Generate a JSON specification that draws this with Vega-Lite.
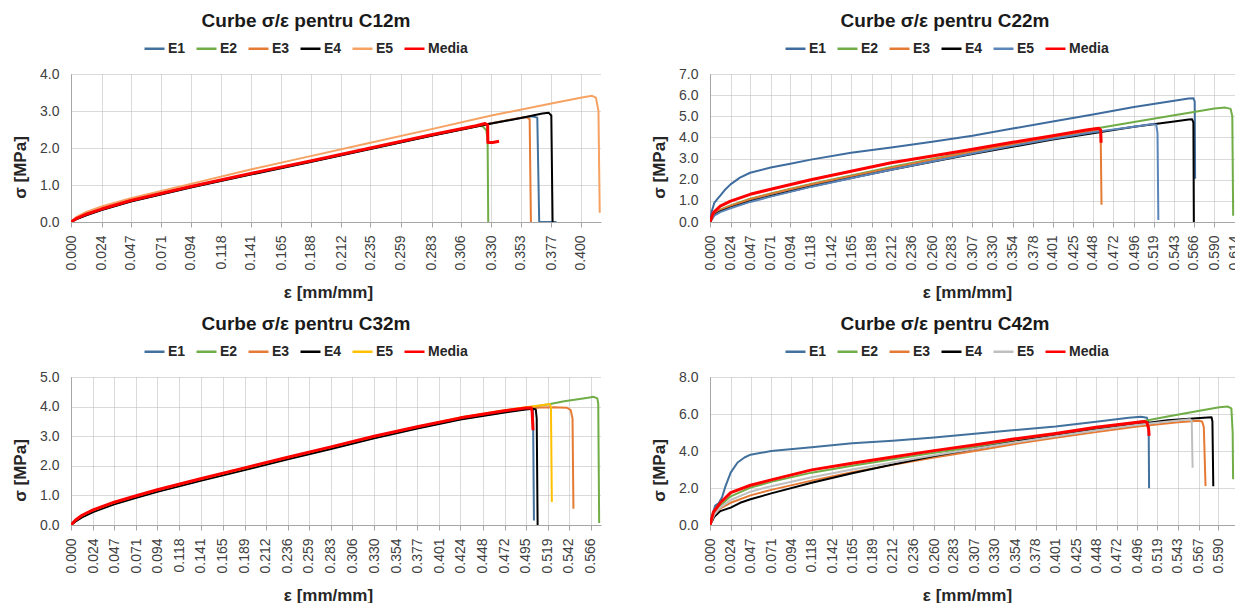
{
"$schema": "https://vega.github.io/schema/vega-lite/v6.json",
"background": "white",
"padding": {"left": 11, "top": 12, "right": 0, "bottom": 0},
"config": {
  "view": {"stroke": null},
  "font": "Liberation Sans",
  "axis": {"labelFont": "Liberation Sans", "labelFontSize": 14, "labelColor": "#404040", "titleFont": "Liberation Sans", "titleFontSize": 17, "titleFontWeight": "bold", "titleColor": "#262626", "gridColor": "#b4b4b4", "gridDash": [1, 1], "gridWidth": 1, "domainColor": "#a6a6a6", "tickColor": "#a6a6a6"},
  "axisX": {"labelAngle": -90, "tickSize": 5, "labelPadding": 8, "titlePadding": 14, "titleX": 257},
  "axisY": {"tickSize": 0, "labelPadding": 12, "titlePadding": 10, "titleY": 93},
  "legend": {"symbolType": "stroke", "symbolSize": 400, "symbolStrokeWidth": 2.5, "labelFont": "Liberation Sans", "labelFontSize": 14, "labelFontWeight": "bold", "labelColor": "#262626", "columnPadding": 5, "labelOffset": 2, "padding": 0},
  "title": {"font": "Liberation Sans", "fontSize": 19, "fontWeight": "bold", "color": "#1a1a1a", "frame": "group", "baseline": "alphabetic", "offset": 6, "dx": -30}
},
"datasets": {
"c12": [
{"s":"E1","x":0,"y":0},{"s":"E1","x":0.004,"y":0.08},{"s":"E1","x":0.012,"y":0.19},{"s":"E1","x":0.024,"y":0.33},{"s":"E1","x":0.047,"y":0.56},{"s":"E1","x":0.094,"y":0.94},{"s":"E1","x":0.141,"y":1.29},{"s":"E1","x":0.188,"y":1.63},{"s":"E1","x":0.235,"y":1.98},{"s":"E1","x":0.283,"y":2.34},{"s":"E1","x":0.330,"y":2.67},{"s":"E1","x":0.353,"y":2.81},{"s":"E1","x":0.362,"y":2.86},{"s":"E1","x":0.366,"y":2.82},{"s":"E1","x":0.3675,"y":0},{"s":"E1","x":0.381,"y":0},
{"s":"E2","x":0,"y":0},{"s":"E2","x":0.004,"y":0.08},{"s":"E2","x":0.012,"y":0.2},{"s":"E2","x":0.024,"y":0.34},{"s":"E2","x":0.047,"y":0.57},{"s":"E2","x":0.094,"y":0.95},{"s":"E2","x":0.141,"y":1.3},{"s":"E2","x":0.188,"y":1.64},{"s":"E2","x":0.235,"y":1.99},{"s":"E2","x":0.283,"y":2.35},{"s":"E2","x":0.318,"y":2.6},{"s":"E2","x":0.323,"y":2.59},{"s":"E2","x":0.326,"y":2.48},{"s":"E2","x":0.327,"y":2.2},{"s":"E2","x":0.3275,"y":0},
{"s":"E3","x":0,"y":0},{"s":"E3","x":0.004,"y":0.1},{"s":"E3","x":0.012,"y":0.22},{"s":"E3","x":0.024,"y":0.36},{"s":"E3","x":0.047,"y":0.59},{"s":"E3","x":0.094,"y":0.96},{"s":"E3","x":0.141,"y":1.3},{"s":"E3","x":0.188,"y":1.64},{"s":"E3","x":0.235,"y":1.99},{"s":"E3","x":0.283,"y":2.34},{"s":"E3","x":0.330,"y":2.67},{"s":"E3","x":0.350,"y":2.8},{"s":"E3","x":0.357,"y":2.84},{"s":"E3","x":0.360,"y":2.78},{"s":"E3","x":0.361,"y":0},
{"s":"E4","x":0,"y":0},{"s":"E4","x":0.004,"y":0.07},{"s":"E4","x":0.012,"y":0.18},{"s":"E4","x":0.024,"y":0.32},{"s":"E4","x":0.047,"y":0.55},{"s":"E4","x":0.094,"y":0.93},{"s":"E4","x":0.141,"y":1.28},{"s":"E4","x":0.188,"y":1.62},{"s":"E4","x":0.235,"y":1.97},{"s":"E4","x":0.283,"y":2.33},{"s":"E4","x":0.330,"y":2.66},{"s":"E4","x":0.353,"y":2.81},{"s":"E4","x":0.370,"y":2.93},{"s":"E4","x":0.375,"y":2.95},{"s":"E4","x":0.377,"y":2.88},{"s":"E4","x":0.378,"y":0},
{"s":"E5","x":0,"y":0},{"s":"E5","x":0.004,"y":0.13},{"s":"E5","x":0.012,"y":0.27},{"s":"E5","x":0.024,"y":0.42},{"s":"E5","x":0.047,"y":0.64},{"s":"E5","x":0.094,"y":1.03},{"s":"E5","x":0.141,"y":1.42},{"s":"E5","x":0.188,"y":1.78},{"s":"E5","x":0.235,"y":2.14},{"s":"E5","x":0.283,"y":2.51},{"s":"E5","x":0.330,"y":2.88},{"s":"E5","x":0.377,"y":3.2},{"s":"E5","x":0.400,"y":3.36},{"s":"E5","x":0.409,"y":3.41},{"s":"E5","x":0.412,"y":3.36},{"s":"E5","x":0.414,"y":3.0},{"s":"E5","x":0.415,"y":0.25},
{"s":"Media","x":0,"y":0},{"s":"Media","x":0.004,"y":0.09},{"s":"Media","x":0.012,"y":0.21},{"s":"Media","x":0.024,"y":0.35},{"s":"Media","x":0.047,"y":0.58},{"s":"Media","x":0.094,"y":0.96},{"s":"Media","x":0.141,"y":1.31},{"s":"Media","x":0.188,"y":1.65},{"s":"Media","x":0.235,"y":2.0},{"s":"Media","x":0.283,"y":2.36},{"s":"Media","x":0.318,"y":2.6},{"s":"Media","x":0.325,"y":2.66},{"s":"Media","x":0.327,"y":2.62},{"s":"Media","x":0.3272,"y":2.15},{"s":"Media","x":0.331,"y":2.15},{"s":"Media","x":0.336,"y":2.18}
],
"c22": [
{"s":"E1","x":0,"y":0},{"s":"E1","x":0.002,"y":0.5},{"s":"E1","x":0.005,"y":0.9},{"s":"E1","x":0.009,"y":1.1},{"s":"E1","x":0.012,"y":1.25},{"s":"E1","x":0.017,"y":1.5},{"s":"E1","x":0.024,"y":1.78},{"s":"E1","x":0.035,"y":2.1},{"s":"E1","x":0.047,"y":2.33},{"s":"E1","x":0.071,"y":2.58},{"s":"E1","x":0.094,"y":2.76},{"s":"E1","x":0.118,"y":2.95},{"s":"E1","x":0.165,"y":3.28},{"s":"E1","x":0.212,"y":3.52},{"s":"E1","x":0.260,"y":3.8},{"s":"E1","x":0.307,"y":4.08},{"s":"E1","x":0.354,"y":4.42},{"s":"E1","x":0.401,"y":4.75},{"s":"E1","x":0.448,"y":5.08},{"s":"E1","x":0.496,"y":5.44},{"s":"E1","x":0.543,"y":5.74},{"s":"E1","x":0.560,"y":5.84},{"s":"E1","x":0.5655,"y":5.85},{"s":"E1","x":0.567,"y":5.7},{"s":"E1","x":0.5675,"y":2.05},
{"s":"E2","x":0,"y":0},{"s":"E2","x":0.005,"y":0.4},{"s":"E2","x":0.012,"y":0.58},{"s":"E2","x":0.024,"y":0.78},{"s":"E2","x":0.047,"y":1.1},{"s":"E2","x":0.071,"y":1.35},{"s":"E2","x":0.118,"y":1.8},{"s":"E2","x":0.165,"y":2.2},{"s":"E2","x":0.212,"y":2.6},{"s":"E2","x":0.260,"y":2.98},{"s":"E2","x":0.307,"y":3.36},{"s":"E2","x":0.354,"y":3.7},{"s":"E2","x":0.401,"y":4.05},{"s":"E2","x":0.448,"y":4.4},{"s":"E2","x":0.496,"y":4.73},{"s":"E2","x":0.543,"y":5.05},{"s":"E2","x":0.566,"y":5.2},{"s":"E2","x":0.590,"y":5.37},{"s":"E2","x":0.603,"y":5.41},{"s":"E2","x":0.609,"y":5.35},{"s":"E2","x":0.611,"y":5.0},{"s":"E2","x":0.612,"y":0.3},
{"s":"E3","x":0,"y":0},{"s":"E3","x":0.005,"y":0.38},{"s":"E3","x":0.012,"y":0.56},{"s":"E3","x":0.024,"y":0.76},{"s":"E3","x":0.047,"y":1.08},{"s":"E3","x":0.071,"y":1.33},{"s":"E3","x":0.118,"y":1.77},{"s":"E3","x":0.165,"y":2.17},{"s":"E3","x":0.212,"y":2.56},{"s":"E3","x":0.260,"y":2.94},{"s":"E3","x":0.307,"y":3.32},{"s":"E3","x":0.354,"y":3.66},{"s":"E3","x":0.401,"y":3.98},{"s":"E3","x":0.448,"y":4.3},{"s":"E3","x":0.454,"y":4.34},{"s":"E3","x":0.457,"y":4.25},{"s":"E3","x":0.458,"y":0.82},
{"s":"E4","x":0,"y":0},{"s":"E4","x":0.005,"y":0.33},{"s":"E4","x":0.012,"y":0.5},{"s":"E4","x":0.024,"y":0.68},{"s":"E4","x":0.047,"y":0.98},{"s":"E4","x":0.071,"y":1.23},{"s":"E4","x":0.118,"y":1.68},{"s":"E4","x":0.165,"y":2.08},{"s":"E4","x":0.212,"y":2.47},{"s":"E4","x":0.260,"y":2.85},{"s":"E4","x":0.307,"y":3.22},{"s":"E4","x":0.354,"y":3.56},{"s":"E4","x":0.401,"y":3.9},{"s":"E4","x":0.448,"y":4.2},{"s":"E4","x":0.496,"y":4.5},{"s":"E4","x":0.543,"y":4.75},{"s":"E4","x":0.560,"y":4.85},{"s":"E4","x":0.564,"y":4.86},{"s":"E4","x":0.5655,"y":4.7},{"s":"E4","x":0.566,"y":0},
{"s":"E5","x":0,"y":0},{"s":"E5","x":0.005,"y":0.3},{"s":"E5","x":0.012,"y":0.47},{"s":"E5","x":0.024,"y":0.65},{"s":"E5","x":0.047,"y":0.95},{"s":"E5","x":0.071,"y":1.2},{"s":"E5","x":0.118,"y":1.66},{"s":"E5","x":0.165,"y":2.07},{"s":"E5","x":0.212,"y":2.47},{"s":"E5","x":0.260,"y":2.86},{"s":"E5","x":0.307,"y":3.24},{"s":"E5","x":0.354,"y":3.6},{"s":"E5","x":0.401,"y":3.94},{"s":"E5","x":0.448,"y":4.25},{"s":"E5","x":0.496,"y":4.5},{"s":"E5","x":0.518,"y":4.63},{"s":"E5","x":0.522,"y":4.6},{"s":"E5","x":0.5235,"y":4.2},{"s":"E5","x":0.5245,"y":0.1},
{"s":"Media","x":0,"y":0},{"s":"Media","x":0.004,"y":0.45},{"s":"Media","x":0.012,"y":0.75},{"s":"Media","x":0.024,"y":0.99},{"s":"Media","x":0.047,"y":1.31},{"s":"Media","x":0.071,"y":1.55},{"s":"Media","x":0.118,"y":2.0},{"s":"Media","x":0.165,"y":2.4},{"s":"Media","x":0.212,"y":2.8},{"s":"Media","x":0.260,"y":3.12},{"s":"Media","x":0.307,"y":3.44},{"s":"Media","x":0.354,"y":3.77},{"s":"Media","x":0.401,"y":4.08},{"s":"Media","x":0.440,"y":4.35},{"s":"Media","x":0.455,"y":4.43},{"s":"Media","x":0.457,"y":4.35},{"s":"Media","x":0.4575,"y":3.75}
],
"c32": [
{"s":"E1","x":0,"y":0},{"s":"E1","x":0.005,"y":0.13},{"s":"E1","x":0.012,"y":0.28},{"s":"E1","x":0.024,"y":0.46},{"s":"E1","x":0.047,"y":0.72},{"s":"E1","x":0.071,"y":0.94},{"s":"E1","x":0.094,"y":1.14},{"s":"E1","x":0.141,"y":1.51},{"s":"E1","x":0.189,"y":1.88},{"s":"E1","x":0.236,"y":2.24},{"s":"E1","x":0.283,"y":2.59},{"s":"E1","x":0.330,"y":2.95},{"s":"E1","x":0.377,"y":3.28},{"s":"E1","x":0.424,"y":3.58},{"s":"E1","x":0.472,"y":3.82},{"s":"E1","x":0.495,"y":3.92},{"s":"E1","x":0.500,"y":3.95},{"s":"E1","x":0.503,"y":3.9},{"s":"E1","x":0.504,"y":0.15},
{"s":"E2","x":0,"y":0},{"s":"E2","x":0.005,"y":0.15},{"s":"E2","x":0.012,"y":0.3},{"s":"E2","x":0.024,"y":0.48},{"s":"E2","x":0.047,"y":0.74},{"s":"E2","x":0.071,"y":0.96},{"s":"E2","x":0.094,"y":1.16},{"s":"E2","x":0.141,"y":1.53},{"s":"E2","x":0.189,"y":1.9},{"s":"E2","x":0.236,"y":2.26},{"s":"E2","x":0.283,"y":2.61},{"s":"E2","x":0.330,"y":2.97},{"s":"E2","x":0.377,"y":3.3},{"s":"E2","x":0.424,"y":3.6},{"s":"E2","x":0.472,"y":3.85},{"s":"E2","x":0.495,"y":3.96},{"s":"E2","x":0.519,"y":4.07},{"s":"E2","x":0.537,"y":4.18},{"s":"E2","x":0.563,"y":4.3},{"s":"E2","x":0.569,"y":4.33},{"s":"E2","x":0.573,"y":4.28},{"s":"E2","x":0.574,"y":4.1},{"s":"E2","x":0.575,"y":0.07},
{"s":"E3","x":0,"y":0},{"s":"E3","x":0.005,"y":0.14},{"s":"E3","x":0.012,"y":0.29},{"s":"E3","x":0.024,"y":0.47},{"s":"E3","x":0.047,"y":0.73},{"s":"E3","x":0.071,"y":0.95},{"s":"E3","x":0.094,"y":1.15},{"s":"E3","x":0.141,"y":1.52},{"s":"E3","x":0.189,"y":1.89},{"s":"E3","x":0.236,"y":2.25},{"s":"E3","x":0.283,"y":2.6},{"s":"E3","x":0.330,"y":2.96},{"s":"E3","x":0.377,"y":3.29},{"s":"E3","x":0.424,"y":3.59},{"s":"E3","x":0.472,"y":3.83},{"s":"E3","x":0.495,"y":3.93},{"s":"E3","x":0.510,"y":3.97},{"s":"E3","x":0.525,"y":3.98},{"s":"E3","x":0.540,"y":3.96},{"s":"E3","x":0.544,"y":3.88},{"s":"E3","x":0.546,"y":3.6},{"s":"E3","x":0.547,"y":0.55},
{"s":"E4","x":0,"y":0},{"s":"E4","x":0.005,"y":0.12},{"s":"E4","x":0.012,"y":0.26},{"s":"E4","x":0.024,"y":0.44},{"s":"E4","x":0.047,"y":0.7},{"s":"E4","x":0.071,"y":0.92},{"s":"E4","x":0.094,"y":1.12},{"s":"E4","x":0.141,"y":1.49},{"s":"E4","x":0.189,"y":1.86},{"s":"E4","x":0.236,"y":2.22},{"s":"E4","x":0.283,"y":2.57},{"s":"E4","x":0.330,"y":2.93},{"s":"E4","x":0.377,"y":3.26},{"s":"E4","x":0.424,"y":3.56},{"s":"E4","x":0.472,"y":3.8},{"s":"E4","x":0.495,"y":3.9},{"s":"E4","x":0.503,"y":3.93},{"s":"E4","x":0.506,"y":3.9},{"s":"E4","x":0.507,"y":3.6},{"s":"E4","x":0.508,"y":0},
{"s":"E5","x":0,"y":0},{"s":"E5","x":0.005,"y":0.16},{"s":"E5","x":0.012,"y":0.32},{"s":"E5","x":0.024,"y":0.5},{"s":"E5","x":0.047,"y":0.76},{"s":"E5","x":0.071,"y":0.98},{"s":"E5","x":0.094,"y":1.18},{"s":"E5","x":0.141,"y":1.55},{"s":"E5","x":0.189,"y":1.92},{"s":"E5","x":0.236,"y":2.28},{"s":"E5","x":0.283,"y":2.63},{"s":"E5","x":0.330,"y":2.99},{"s":"E5","x":0.377,"y":3.32},{"s":"E5","x":0.424,"y":3.63},{"s":"E5","x":0.472,"y":3.88},{"s":"E5","x":0.495,"y":3.98},{"s":"E5","x":0.510,"y":4.04},{"s":"E5","x":0.521,"y":4.09},{"s":"E5","x":0.5225,"y":4.0},{"s":"E5","x":0.5235,"y":0.78},
{"s":"Media","x":0,"y":0},{"s":"Media","x":0.005,"y":0.17},{"s":"Media","x":0.012,"y":0.33},{"s":"Media","x":0.024,"y":0.51},{"s":"Media","x":0.047,"y":0.77},{"s":"Media","x":0.071,"y":0.99},{"s":"Media","x":0.094,"y":1.19},{"s":"Media","x":0.141,"y":1.56},{"s":"Media","x":0.189,"y":1.93},{"s":"Media","x":0.236,"y":2.29},{"s":"Media","x":0.283,"y":2.64},{"s":"Media","x":0.330,"y":3.0},{"s":"Media","x":0.377,"y":3.32},{"s":"Media","x":0.424,"y":3.62},{"s":"Media","x":0.472,"y":3.86},{"s":"Media","x":0.495,"y":3.95},{"s":"Media","x":0.501,"y":3.96},{"s":"Media","x":0.502,"y":3.85},{"s":"Media","x":0.503,"y":3.2}
],
"c42": [
{"s":"E1","x":0,"y":0},{"s":"E1","x":0.003,"y":0.6},{"s":"E1","x":0.006,"y":1.05},{"s":"E1","x":0.010,"y":1.17},{"s":"E1","x":0.014,"y":1.5},{"s":"E1","x":0.018,"y":2.1},{"s":"E1","x":0.024,"y":2.83},{"s":"E1","x":0.032,"y":3.38},{"s":"E1","x":0.040,"y":3.65},{"s":"E1","x":0.047,"y":3.8},{"s":"E1","x":0.071,"y":4.0},{"s":"E1","x":0.118,"y":4.2},{"s":"E1","x":0.165,"y":4.42},{"s":"E1","x":0.212,"y":4.55},{"s":"E1","x":0.260,"y":4.73},{"s":"E1","x":0.307,"y":4.93},{"s":"E1","x":0.354,"y":5.13},{"s":"E1","x":0.401,"y":5.32},{"s":"E1","x":0.448,"y":5.58},{"s":"E1","x":0.486,"y":5.8},{"s":"E1","x":0.500,"y":5.85},{"s":"E1","x":0.507,"y":5.8},{"s":"E1","x":0.509,"y":5.5},{"s":"E1","x":0.5095,"y":1.99},
{"s":"E2","x":0,"y":0},{"s":"E2","x":0.005,"y":0.6},{"s":"E2","x":0.012,"y":1.05},{"s":"E2","x":0.024,"y":1.55},{"s":"E2","x":0.047,"y":2.02},{"s":"E2","x":0.071,"y":2.33},{"s":"E2","x":0.118,"y":2.83},{"s":"E2","x":0.165,"y":3.2},{"s":"E2","x":0.212,"y":3.55},{"s":"E2","x":0.260,"y":3.9},{"s":"E2","x":0.307,"y":4.22},{"s":"E2","x":0.354,"y":4.55},{"s":"E2","x":0.401,"y":4.87},{"s":"E2","x":0.448,"y":5.2},{"s":"E2","x":0.496,"y":5.55},{"s":"E2","x":0.531,"y":5.87},{"s":"E2","x":0.568,"y":6.18},{"s":"E2","x":0.591,"y":6.37},{"s":"E2","x":0.601,"y":6.4},{"s":"E2","x":0.605,"y":6.3},{"s":"E2","x":0.6065,"y":5.0},{"s":"E2","x":0.607,"y":2.47},
{"s":"E3","x":0,"y":0},{"s":"E3","x":0.005,"y":0.5},{"s":"E3","x":0.012,"y":0.9},{"s":"E3","x":0.024,"y":1.2},{"s":"E3","x":0.047,"y":1.6},{"s":"E3","x":0.071,"y":1.9},{"s":"E3","x":0.118,"y":2.4},{"s":"E3","x":0.165,"y":2.85},{"s":"E3","x":0.212,"y":3.25},{"s":"E3","x":0.260,"y":3.65},{"s":"E3","x":0.307,"y":4.0},{"s":"E3","x":0.354,"y":4.38},{"s":"E3","x":0.401,"y":4.72},{"s":"E3","x":0.448,"y":5.02},{"s":"E3","x":0.496,"y":5.32},{"s":"E3","x":0.543,"y":5.55},{"s":"E3","x":0.567,"y":5.63},{"s":"E3","x":0.571,"y":5.6},{"s":"E3","x":0.573,"y":5.3},{"s":"E3","x":0.575,"y":2.1},
{"s":"E4","x":0,"y":0},{"s":"E4","x":0.005,"y":0.45},{"s":"E4","x":0.012,"y":0.75},{"s":"E4","x":0.024,"y":0.94},{"s":"E4","x":0.035,"y":1.2},{"s":"E4","x":0.047,"y":1.39},{"s":"E4","x":0.071,"y":1.71},{"s":"E4","x":0.118,"y":2.28},{"s":"E4","x":0.165,"y":2.8},{"s":"E4","x":0.212,"y":3.27},{"s":"E4","x":0.260,"y":3.73},{"s":"E4","x":0.307,"y":4.12},{"s":"E4","x":0.354,"y":4.5},{"s":"E4","x":0.401,"y":4.83},{"s":"E4","x":0.448,"y":5.15},{"s":"E4","x":0.496,"y":5.45},{"s":"E4","x":0.531,"y":5.66},{"s":"E4","x":0.573,"y":5.8},{"s":"E4","x":0.582,"y":5.82},{"s":"E4","x":0.583,"y":5.6},{"s":"E4","x":0.584,"y":2.1},
{"s":"E5","x":0,"y":0},{"s":"E5","x":0.005,"y":0.55},{"s":"E5","x":0.012,"y":0.95},{"s":"E5","x":0.024,"y":1.35},{"s":"E5","x":0.047,"y":1.8},{"s":"E5","x":0.071,"y":2.1},{"s":"E5","x":0.118,"y":2.58},{"s":"E5","x":0.165,"y":3.0},{"s":"E5","x":0.212,"y":3.38},{"s":"E5","x":0.260,"y":3.77},{"s":"E5","x":0.307,"y":4.12},{"s":"E5","x":0.354,"y":4.47},{"s":"E5","x":0.401,"y":4.8},{"s":"E5","x":0.448,"y":5.12},{"s":"E5","x":0.496,"y":5.42},{"s":"E5","x":0.543,"y":5.65},{"s":"E5","x":0.557,"y":5.72},{"s":"E5","x":0.559,"y":5.6},{"s":"E5","x":0.560,"y":3.1},
{"s":"Media","x":0,"y":0},{"s":"Media","x":0.004,"y":0.7},{"s":"Media","x":0.012,"y":1.2},{"s":"Media","x":0.024,"y":1.75},{"s":"Media","x":0.047,"y":2.15},{"s":"Media","x":0.071,"y":2.44},{"s":"Media","x":0.118,"y":2.98},{"s":"Media","x":0.165,"y":3.34},{"s":"Media","x":0.212,"y":3.68},{"s":"Media","x":0.260,"y":4.02},{"s":"Media","x":0.307,"y":4.33},{"s":"Media","x":0.354,"y":4.66},{"s":"Media","x":0.401,"y":4.95},{"s":"Media","x":0.448,"y":5.28},{"s":"Media","x":0.496,"y":5.55},{"s":"Media","x":0.504,"y":5.6},{"s":"Media","x":0.507,"y":5.55},{"s":"Media","x":0.509,"y":5.2},{"s":"Media","x":0.5095,"y":4.82}
]
},
"vconcat": [
{
"hconcat": [
{
"width": 530, "height": 148,
"data": {"name": "c12"},
"title": {"text": "Curbe σ/ε pentru C12m"},
"mark": {"type": "line", "clip": true, "strokeJoin": "round"},
"encoding": {
 "x": {"field": "x", "type": "quantitative", "scale": {"domain": [0, 0.416], "nice": false}, "axis": {"values": [0,0.024,0.047,0.071,0.094,0.118,0.141,0.165,0.188,0.212,0.235,0.259,0.283,0.306,0.330,0.353,0.377,0.400], "format": ".3f", "title": "ε [mm/mm]"}},
 "y": {"field": "y", "type": "quantitative", "scale": {"domain": [0, 4], "nice": false}, "axis": {"values": [0,1,2,3,4], "format": ".1f", "title": "σ [MPa]"}},
 "color": {"field": "s", "type": "nominal", "scale": {"domain": ["E1","E2","E3","E4","E5","Media"], "range": ["#41719C","#70AD47","#E57A34","#000000","#F5A263","#FF0000"]}, "legend": {"orient": "none", "legendX": 72, "legendY": -37, "direction": "horizontal", "title": null}},
 "strokeWidth": {"condition": {"test": "datum.s === 'Media'", "value": 3}, "value": 2}
}
},
{
"width": 530, "height": 148,
"data": {"name": "c22"},
"title": {"text": "Curbe σ/ε pentru C22m"},
"mark": {"type": "line", "clip": true, "strokeJoin": "round"},
"encoding": {
 "x": {"field": "x", "type": "quantitative", "scale": {"domain": [0, 0.62], "nice": false}, "axis": {"values": [0,0.024,0.047,0.071,0.094,0.118,0.142,0.165,0.189,0.212,0.236,0.260,0.283,0.307,0.330,0.354,0.378,0.401,0.425,0.448,0.472,0.496,0.519,0.543,0.566,0.590,0.614], "format": ".3f", "title": "ε [mm/mm]"}},
 "y": {"field": "y", "type": "quantitative", "scale": {"domain": [0, 7], "nice": false}, "axis": {"values": [0,1,2,3,4,5,6,7], "format": ".1f", "title": "σ [MPa]"}},
 "color": {"field": "s", "type": "nominal", "scale": {"domain": ["E1","E2","E3","E4","E5","Media"], "range": ["#3F6C9E","#70AD47","#E57A34","#000000","#5B86BA","#FF0000"]}, "legend": {"orient": "none", "legendX": 74, "legendY": -37, "direction": "horizontal", "title": null}},
 "strokeWidth": {"condition": {"test": "datum.s === 'Media'", "value": 3}, "value": 2}
}
}
],
"spacing": 109, "bounds": "flush",
"resolve": {"scale": {"color": "independent", "x": "independent", "y": "independent"}, "legend": {"color": "independent"}}
},
{
"hconcat": [
{
"width": 530, "height": 148,
"data": {"name": "c32"},
"title": {"text": "Curbe σ/ε pentru C32m"},
"mark": {"type": "line", "clip": true, "strokeJoin": "round"},
"encoding": {
 "x": {"field": "x", "type": "quantitative", "scale": {"domain": [0, 0.577], "nice": false}, "axis": {"values": [0,0.024,0.047,0.071,0.094,0.118,0.141,0.165,0.189,0.212,0.236,0.259,0.283,0.306,0.330,0.354,0.377,0.401,0.424,0.448,0.472,0.495,0.519,0.542,0.566], "format": ".3f", "title": "ε [mm/mm]"}},
 "y": {"field": "y", "type": "quantitative", "scale": {"domain": [0, 5], "nice": false}, "axis": {"values": [0,1,2,3,4,5], "format": ".1f", "title": "σ [MPa]"}},
 "color": {"field": "s", "type": "nominal", "scale": {"domain": ["E1","E2","E3","E4","E5","Media"], "range": ["#41719C","#70AD47","#E57A34","#000000","#FFC000","#FF0000"]}, "legend": {"orient": "none", "legendX": 72, "legendY": -37, "direction": "horizontal", "title": null}},
 "strokeWidth": {"condition": {"test": "datum.s === 'Media'", "value": 3}, "value": 2}
}
},
{
"width": 530, "height": 148,
"data": {"name": "c42"},
"title": {"text": "Curbe σ/ε pentru C42m"},
"mark": {"type": "line", "clip": true, "strokeJoin": "round"},
"encoding": {
 "x": {"field": "x", "type": "quantitative", "scale": {"domain": [0, 0.615], "nice": false}, "axis": {"values": [0,0.024,0.047,0.071,0.094,0.118,0.142,0.165,0.189,0.212,0.236,0.260,0.283,0.307,0.330,0.354,0.378,0.401,0.425,0.448,0.472,0.496,0.519,0.543,0.567,0.590], "format": ".3f", "title": "ε [mm/mm]"}},
 "y": {"field": "y", "type": "quantitative", "scale": {"domain": [0, 8], "nice": false}, "axis": {"values": [0,2,4,6,8], "format": ".1f", "title": "σ [MPa]"}},
 "color": {"field": "s", "type": "nominal", "scale": {"domain": ["E1","E2","E3","E4","E5","Media"], "range": ["#41719C","#70AD47","#E57A34","#000000","#BFBFBF","#FF0000"]}, "legend": {"orient": "none", "legendX": 74, "legendY": -37, "direction": "horizontal", "title": null}},
 "strokeWidth": {"condition": {"test": "datum.s === 'Media'", "value": 3}, "value": 2}
}
}
],
"spacing": 109, "bounds": "flush",
"resolve": {"scale": {"color": "independent", "x": "independent", "y": "independent"}, "legend": {"color": "independent"}}
}
],
"spacing": 303, "bounds": "flush",
"resolve": {"scale": {"color": "independent", "x": "independent", "y": "independent"}, "legend": {"color": "independent"}}
}
